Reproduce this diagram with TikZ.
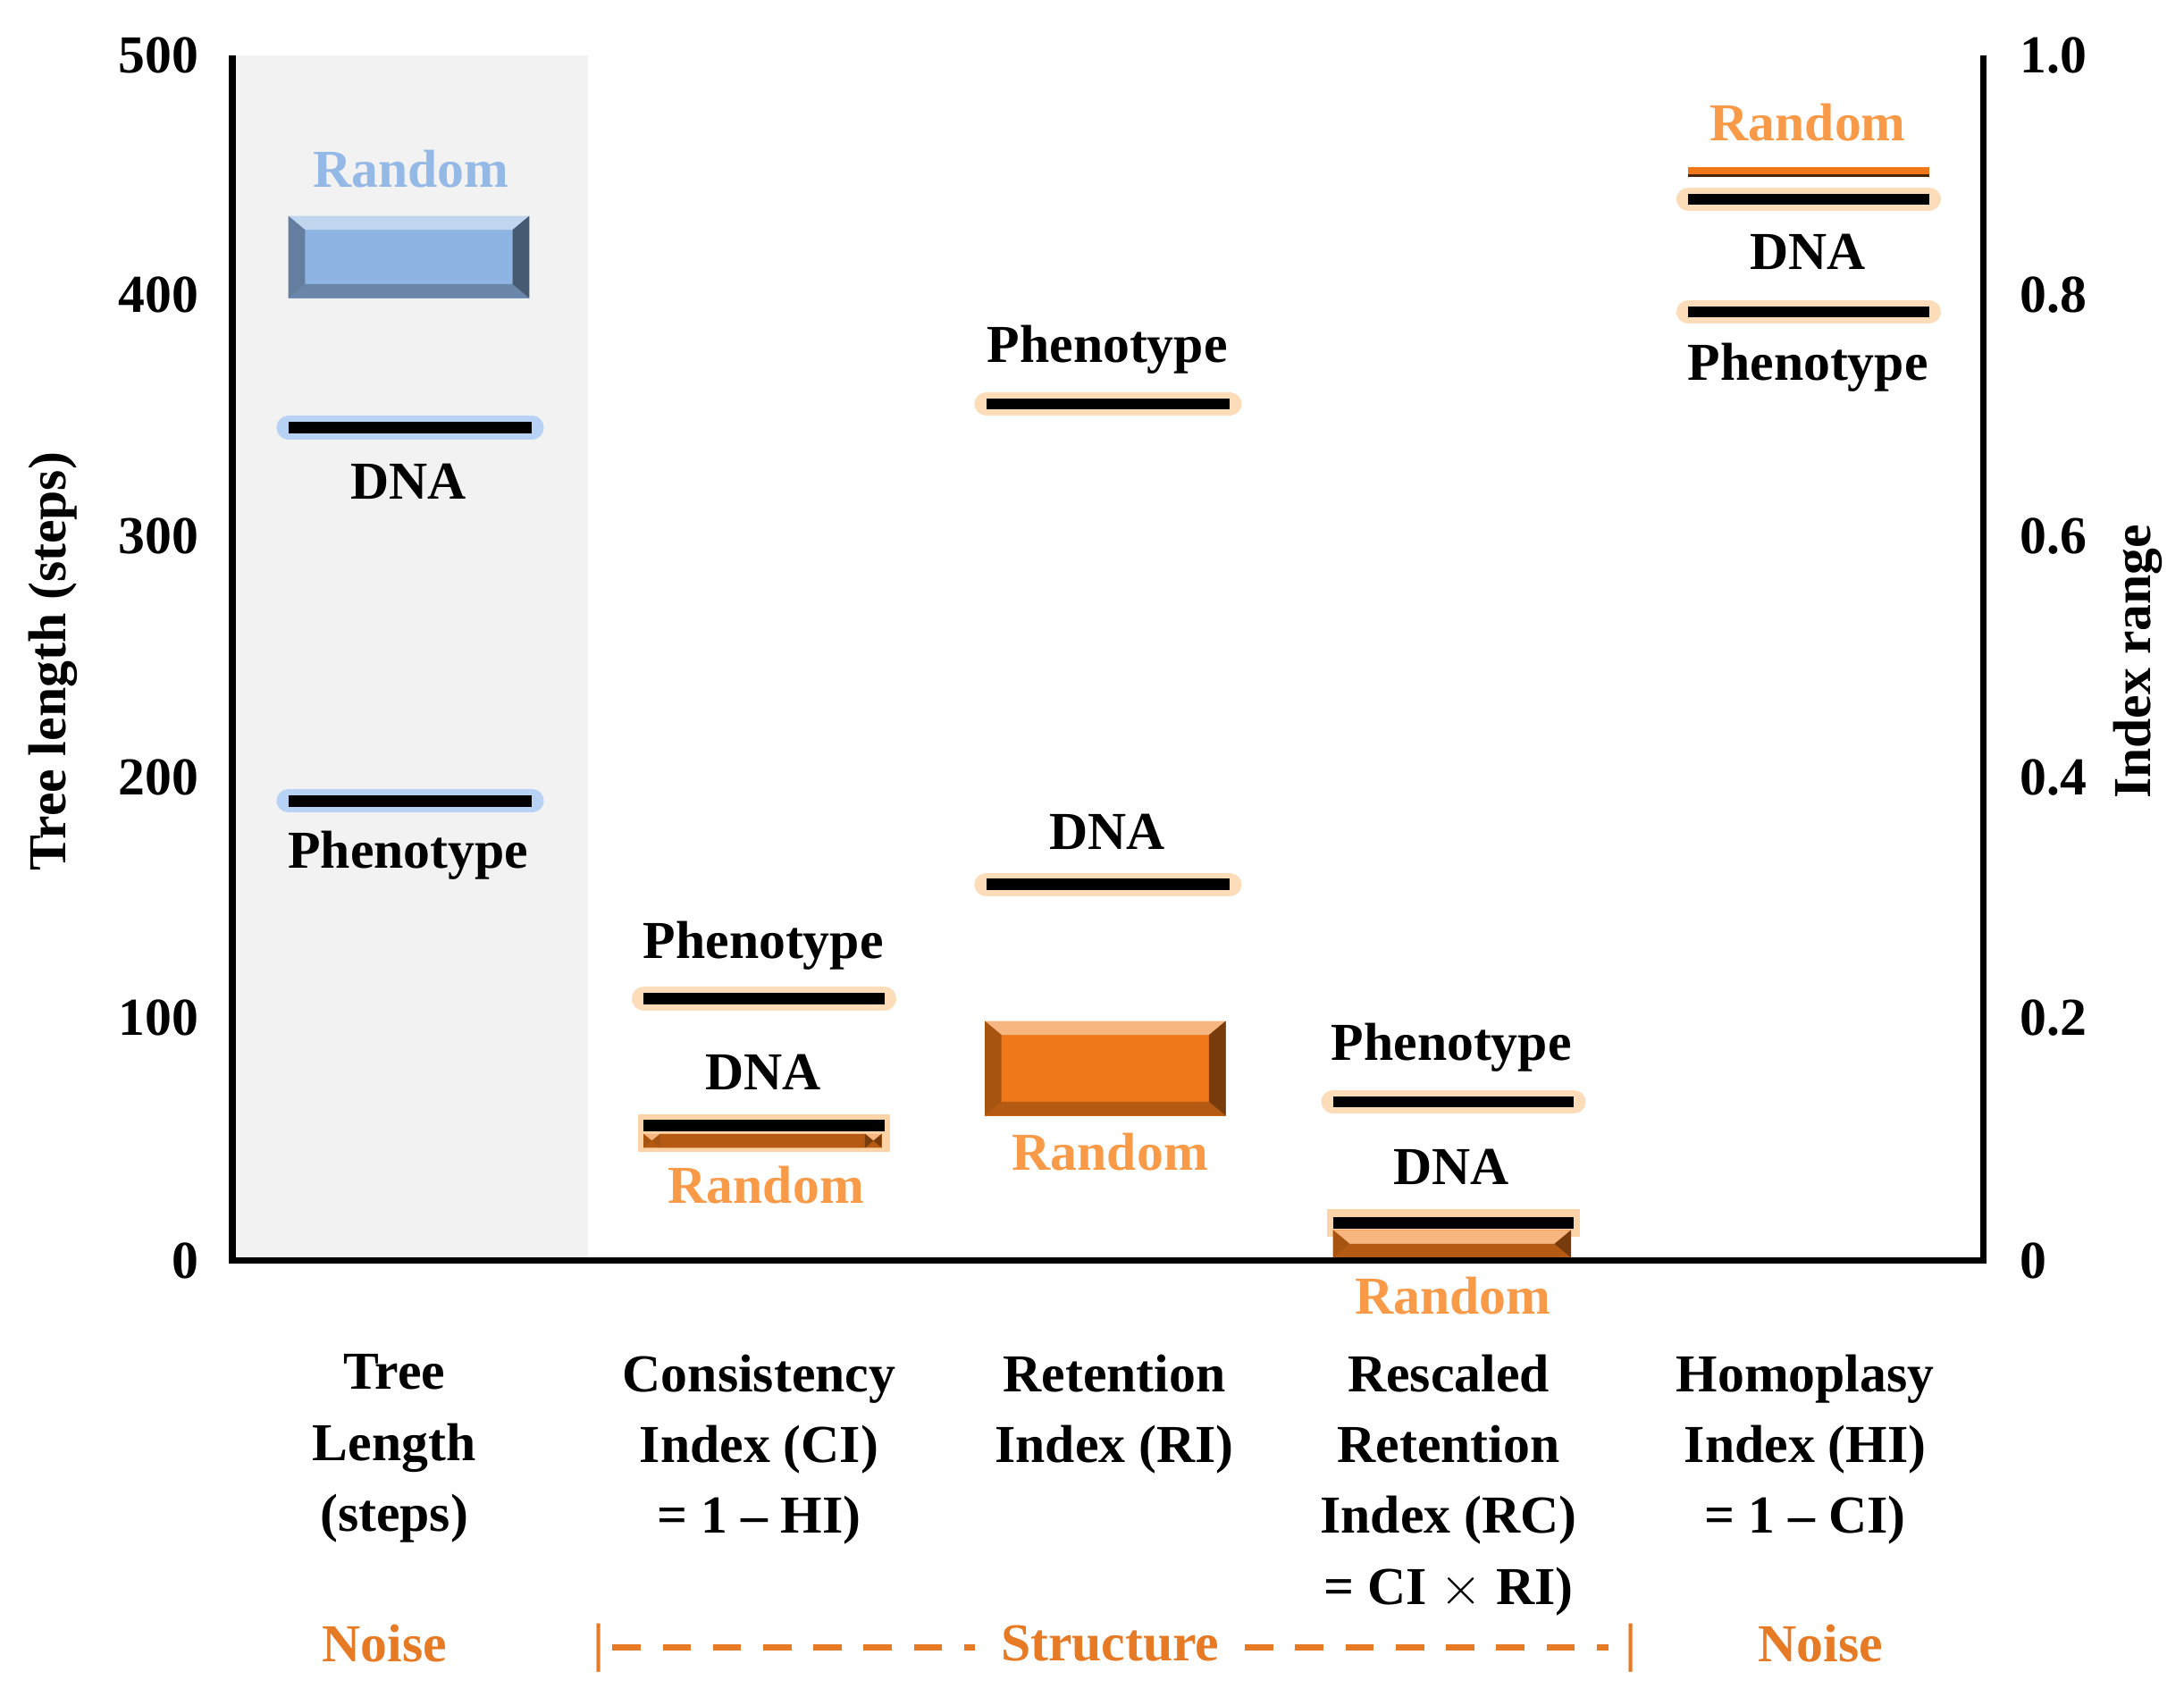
\documentclass[tikz,border=0pt]{standalone}
\usepackage{fontspec}
\setmainfont{Liberation Serif}
\begin{document}
\definecolor{bl}{HTML}{8DB4E2}
\definecolor{bltxt}{HTML}{95B9E6}
\definecolor{blglow}{HTML}{A9CBF5}
\definecolor{org}{HTML}{F07818}
\definecolor{orgtxt}{HTML}{F89A48}
\definecolor{orgdk}{HTML}{E77A24}
\definecolor{orgglow}{HTML}{FDD3A8}
\begin{tikzpicture}[x=0.015587cm,y=-0.015587cm,
  txt/.style={font=\fontsize{17}{22.6}\selectfont\bfseries,inner sep=0pt,align=center},
  bar/.style={line width=3.6pt,black},
]
\useasboundingbox (0,0) rectangle (1568,1218.3);
\fill[black!5] (167,40) rectangle (422,905);
% bars helper
\newcommand{\gbar}[4]{%
  \draw[line width=7.5pt,#4,line cap=round,opacity=.8] (#1,#3) -- (#2,#3);
  \draw[bar] (#1,#3) -- (#2,#3);}
\newcommand{\bevbox}[6]{% x1 y1 x2 y2 base dark
  \fill[#5] (#1,#2) rectangle (#3,#4);
  \fill[#5!55!white] (#1,#2) -- (#3,#2) -- ({#3-12},{#2+10}) -- ({#1+12},{#2+10}) -- cycle;
  \fill[#5!75!#6] (#1,#4) -- (#3,#4) -- ({#3-12},{#4-10}) -- ({#1+12},{#4-10}) -- cycle;
  \fill[#5!70!#6] (#1,#2) -- ({#1+12},{#2+10}) -- ({#1+12},{#4-10}) -- (#1,#4) -- cycle;
  \fill[#5!50!#6] (#3,#2) -- ({#3-12},{#2+10}) -- ({#3-12},{#4-10}) -- (#3,#4) -- cycle;}
% column 1
\bevbox{207}{155}{380}{214}{bl}{black}
\node[txt,text=bltxt] (r1) at (295,121) {Random};
\gbar{207}{382}{307}{blglow}
\node[txt] (d1) at (293,346) {DNA};
\gbar{207}{382}{575}{blglow}
\node[txt] (p1) at (293,614) {Phenotype};
% column 2
\node[txt] (p2) at (548,679) {Phenotype};
\gbar{462}{635}{717}{orgglow}
\node[txt] (d2) at (548,770) {DNA};
\fill[orgglow] (458,800) rectangle (639,827);
\bevbox{462}{814}{633}{824}{org}{black}
\draw[bar] (462,808) -- (635,808);
\node[txt,text=orgtxt] (r2) at (550,851) {Random};
% column 3
\node[txt] (p3) at (795,251) {Phenotype};
\gbar{708}{883}{290}{orgglow}
\node[txt] (d3) at (795,597) {DNA};
\gbar{708}{883}{635}{orgglow}
\bevbox{707}{733}{880}{801}{org}{black}
\node[txt,text=orgtxt] (r3) at (797,827) {Random};
% column 4
\node[txt] (p4) at (1042,752) {Phenotype};
\gbar{957}{1130}{791}{orgglow}
\node[txt] (d4) at (1042,838) {DNA};
\fill[orgglow] (953,868) rectangle (1134,888);
\bevbox{957}{883}{1128}{903}{org}{black}
\draw[bar] (957,878) -- (1130,878);
\node[txt,text=orgtxt] (r4) at (1043,930) {Random};
% column 5
\node[txt,text=orgtxt] (r5) at (1298,88) {Random};
\draw[line width=2.8pt,org] (1212,123) -- (1385,123);
\draw[line width=0.8pt,black!70!org] (1212,126) -- (1385,126);
\gbar{1212}{1385}{143}{orgglow}
\node[txt] (d5) at (1298,181) {DNA};
\gbar{1212}{1385}{224}{orgglow}
\node[txt] (p5) at (1298,264) {Phenotype};
% axes
\draw[line width=2.2pt] (167,40) -- (167,905) -- (1424,905) -- (1424,40);
\foreach \v/\y in {500/40,400/212,300/385,200/558,100/731,0/905}
  \node[txt,anchor=east] at (143,\y) {\v};
\foreach \v/\y in {1.0/40,0.8/212,0.6/385,0.4/558,0.2/731,0/905}
  \node[txt,anchor=west] at (1450,\y) {\v};
\node[txt,rotate=90] (yl) at (38,475) {Tree length (steps)};
\node[txt,rotate=90] (yr) at (1535,475) {Index range};
% categories
\node[txt,anchor=north] (c1) at (283,972) {Tree\\Length\\(steps)};
\node[txt,anchor=north] (c2) at (545,972) {Consistency\\Index (CI)\\= 1 -- HI)};
\node[txt,anchor=north] (c3) at (800,972) {Retention\\Index (RI)};
\node[txt,anchor=north] (c4) at (1040,972) {Rescaled\\Retention\\Index (RC)\\= CI $\times$ RI)};
\node[txt,anchor=north] (c5) at (1296,972) {Homoplasy\\Index (HI)\\= 1 -- CI)};
\node[txt,text=orgdk] (n1) at (276,1180) {Noise};
\node[txt,text=orgdk] (n2) at (1307,1180) {Noise};
\node[txt,text=orgdk] (s) at (797,1180) {Structure};
\node[txt,text=orgdk] (sl) at (430,1183) {|};
\node[txt,text=orgdk] (sr) at (1171,1183) {|};
\draw[orgdk,line width=2pt,dash pattern=on 9pt off 7pt] (sl.east) ++(5,0) -- ([xshift=-8]s.west|-sl.east);
\draw[orgdk,line width=2pt,dash pattern=on 9pt off 7pt] ([xshift=8]s.east|-sr.west) -- ([xshift=-5]sr.west);
\end{tikzpicture}
\end{document}
